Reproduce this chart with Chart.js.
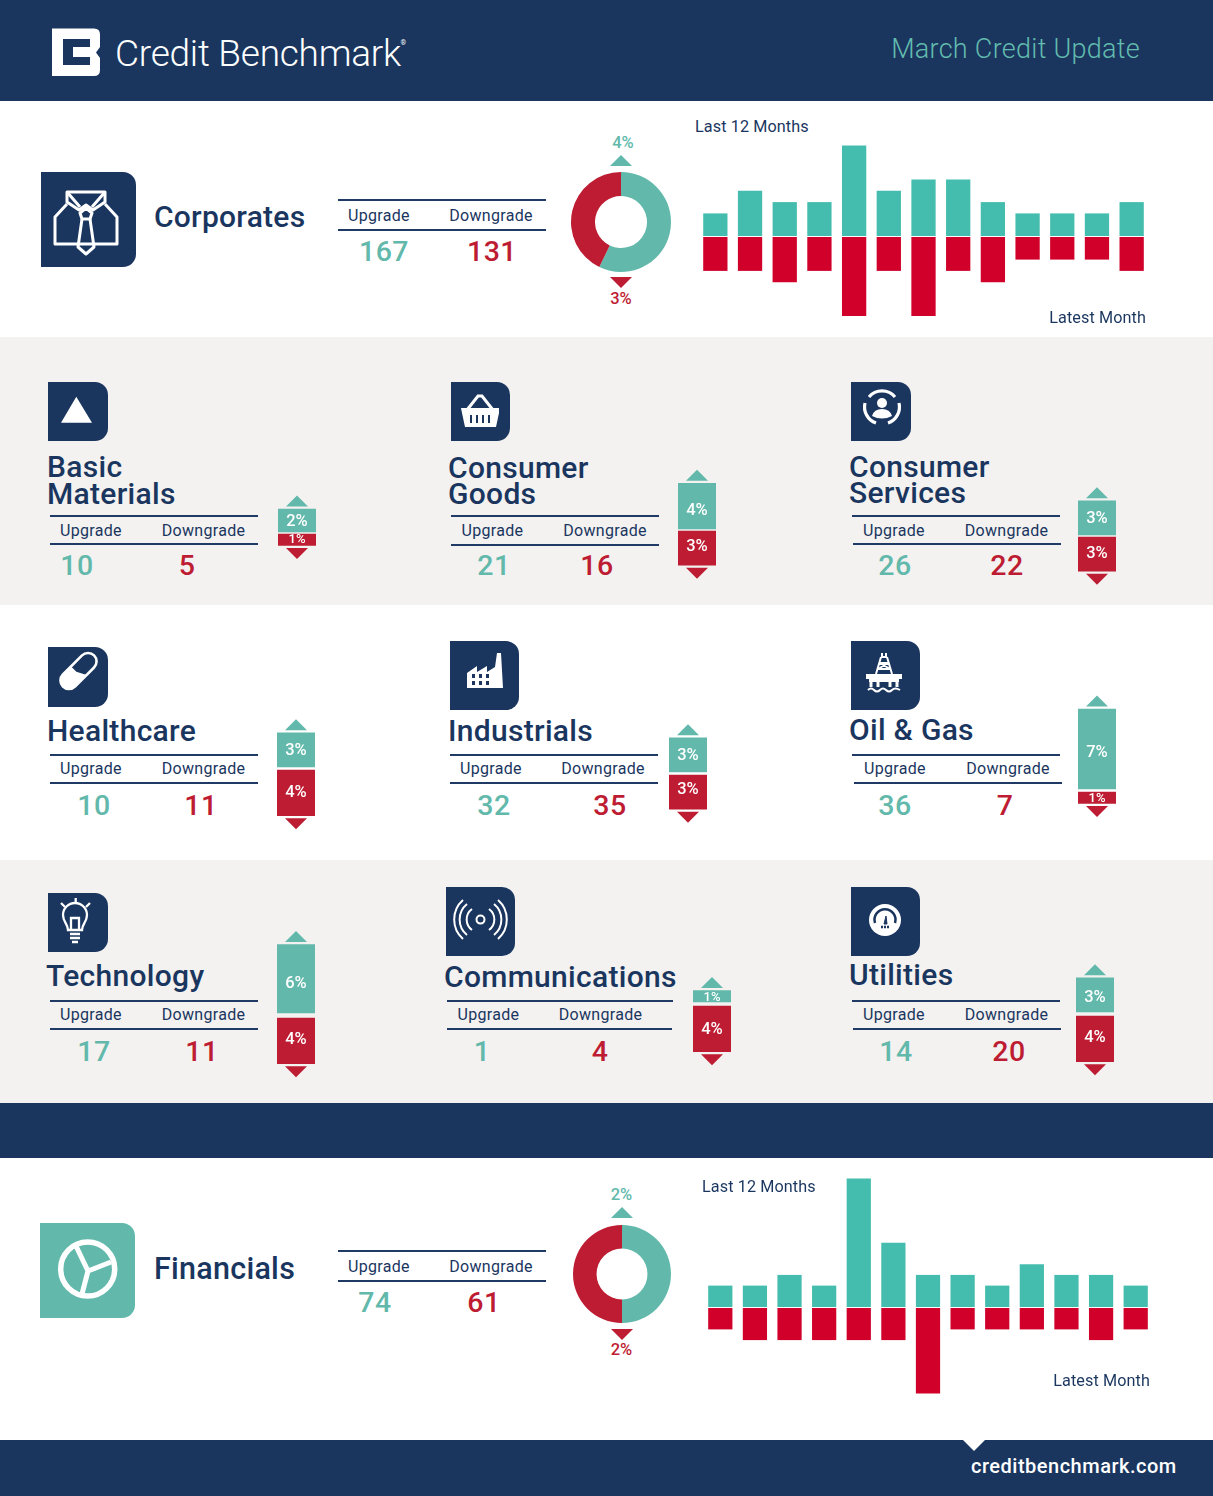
<!DOCTYPE html>
<html>
<head>
<meta charset="utf-8">
<title>Credit Benchmark – March Credit Update</title>
<script src="https://cdn.jsdelivr.net/npm/chart.js@4"></script>
<style>
html,body{margin:0;padding:0;background:#fff}
#page{position:relative;width:1213px;height:1496px;overflow:hidden;background:#fff;font-family:Roboto,sans-serif;color:#1a365f}
.band{position:absolute;left:0;width:1213px}
.t{position:absolute;white-space:nowrap;line-height:1}
.c{transform:translate(-50%,-50%)}
.l{transform:translateY(-50%)}
.r{transform:translate(-100%,-50%)}
.rule{position:absolute;height:2px;background:#1f3a64}
.box{position:absolute;border-radius:0 13px 13px 0;background:#1a365f;overflow:hidden}
.box svg{position:absolute;left:0;top:0;width:100%;height:100%}
canvas{position:absolute}
.tri{position:absolute;width:0;height:0;border-left:11px solid transparent;border-right:11px solid transparent}
</style>
</head>
<body>
<div id="page"></div>
<script>
// ---------- data ----------
const sectors = ['Basic|Materials','Consumer|Goods','Consumer|Services','Healthcare','Industrials','Oil & Gas','Technology','Communications','Utilities'];
const sectorUpgrades = [10,21,26,10,32,36,17,1,14];
const sectorDowngrades = [5,16,22,11,35,7,11,4,20];
const sectorUpPct = [2,4,3,3,3,7,6,1,3];
const sectorDownPct = [1,3,3,4,3,1,4,4,4];

const monthLabels = ['m1','m2','m3','m4','m5','m6','m7','m8','m9','m10','m11','m12','m13'];
const corporatesUp = [2,4,3,3,8,4,5,5,3,2,2,2,3];
const corporatesDown = [-3,-3,-4,-3,-7,-3,-7,-3,-4,-2,-2,-2,-3];
const financialsUp = [2,2,3,2,12,6,3,3,2,4,3,3,2];
const financialsDown = [-2,-3,-3,-3,-3,-3,-8,-2,-2,-2,-2,-3,-2];

const corporatesCounts = [167,131];
const corporatesPct = [4,3];
const financialsCounts = [74,61];
const financialsPct = [2,2];

const headings = {brand:'Credit Benchmark',update:'March Credit Update',up:'Upgrade',down:'Downgrade',last:'Last 12 Months',latest:'Latest Month',site:'creditbenchmark.com',corp:'Corporates',fin:'Financials'};

// ---------- styles ----------
const NAVY='#1a365f', TEAL='#62b9ab', RED='#bd1c32', BTEAL='#45bdae', BRED='#d0002a', GREY='#f3f2f0';
const page=document.getElementById('page');
function el(tag,cls,css,parent){const e=document.createElement(tag);if(cls)e.className=cls;Object.assign(e.style,css||{});(parent||page).appendChild(e);return e;}
function band(top,h,color){el('div','band',{top:top+'px',height:h+'px',background:color});}
function text(s,x,y,size,weight,color,align,spacing){const e=el('div','t '+(align||'c'),{left:x+'px',top:y+'px',fontSize:size+'px',fontWeight:weight,color:color,letterSpacing:(spacing||0)+'px'});e.textContent=s;return e;}
function rule(x1,x2,y){el('div','rule',{left:x1+'px',width:(x2-x1)+'px',top:(y-1)+'px'});}
function box(x,y,w,h,svg,color){const b=el('div','box',{left:x+'px',top:y+'px',width:w+'px',height:h+'px',background:color||NAVY});b.innerHTML='<svg viewBox="0 0 '+w+' '+h+'">'+svg+'</svg>';}
function tri(cx,top,dir,color){const e=el('div','tri',{left:(cx-11)+'px',top:top+'px'});if(dir>0){e.style.borderBottom='11px solid '+color;}else{e.style.borderTop='11px solid '+color;}}

// ---------- background bands ----------
band(0,101,NAVY);
band(337,268,GREY);
band(860,243,GREY);
band(1103,55,NAVY);
band(1440,56,NAVY);

// ---------- header ----------
const logo=el('div','',{position:'absolute',left:'0',top:'0',width:'200px',height:'101px'});
logo.innerHTML='<svg width="200" height="101"><path d="M52 28.5H94Q100 28.5 100 34.5V47L96 52.5L100 58V70Q100 76 94 76H52Z" fill="#fff"/><path d="M63 39H90V47H73V57H90V65H63Z" fill="'+NAVY+'"/></svg>';
text(headings.brand,115,53,37,300,'#fff','l',-0.25);
text('®',400.5,43,7,400,'#fff','l');
text(headings.update,1140,48.5,27,300,'#62bbae','r',0.28);

// ---------- footer ----------
el('div','',{position:'absolute',left:'963px',top:'1440px',width:'0',height:'0',borderLeft:'11px solid transparent',borderRight:'11px solid transparent',borderTop:'11px solid #fff'});
text(headings.site,971,1466,20,500,'#fff','l',0.5);

// ---------- icons ----------
const W='#fff';
const icons={
 shirt:`<g fill="none" stroke="${W}" stroke-width="3" stroke-linejoin="round"><path d="M26 32L14 45V72H76V45L64 32"/><path d="M26 20H64V30L52 38L45 33L38 38L26 30Z"/><path d="M26 20L39 35M64 20L51 35"/><path d="M39 41L45 36L51 41L49 47H41Z"/><path d="M41 47L37 75L45 82L53 75L49 47"/></g>`,
 tri:`<polygon points="13,40.7 44,40.7 28.3,14.7" fill="${W}"/>`,
 basket:`<path d="M16 28L27 14L31 14L42 28" fill="none" stroke="${W}" stroke-width="3"/><path d="M10 26H48V31L45 45H14L11 31Z" fill="${W}"/><path d="M20 33V41M26 33V41M32 33V41M38 33V41" stroke="${NAVY}" stroke-width="2"/>`,
 cycle:`<g fill="none" stroke="${W}" stroke-width="3.2"><path d="M18 15A17 17 0 0 1 44 15"/><path d="M48 21A17 17 0 0 1 37 41"/><path d="M25 41A17 17 0 0 1 14 21"/></g><circle cx="31" cy="21" r="5" fill="${W}"/><path d="M21 34Q23 27 31 27Q39 27 41 34Q31 39 21 34Z" fill="${W}"/>`,
 pill:`<g transform="translate(30.5 24) rotate(-45)"><rect x="-22" y="-8.5" width="44" height="17" rx="8.5" fill="none" stroke="${W}" stroke-width="2.6"/><path d="M-22 0A8.5 8.5 0 0 1 -13.5 -8.5H-2L-2 -1L3 8.5H-13.5A8.5 8.5 0 0 1 -22 0Z" fill="${W}"/></g>`,
 factory:`<path d="M17 32L27 25V31L37 25V31L45 26L47 12H51L53 47H17Z" fill="${W}"/><g fill="${NAVY}"><rect x="22" y="33" width="3" height="4"/><rect x="29" y="33" width="3" height="4"/><rect x="36" y="33" width="3" height="4"/><rect x="22" y="40" width="3" height="4"/><rect x="29" y="40" width="3" height="4"/><rect x="36" y="40" width="3" height="4"/></g>`,
 rig:`<g stroke="${W}" fill="none" stroke-width="2"><path d="M30 16L25 33M36 16L41 33M30 16H36M28 22H38M26 28H40M29 22L39 28M37 22L27 28M31 12V16M35 12V16"/><path d="M20 41V46M46 41V46M27 41V46M39 41V46" stroke-width="3"/><path d="M17 49Q20 46 23 49T29 49T35 49T41 49T49 49"/></g><rect x="15" y="33" width="36" height="5" fill="${W}"/><rect x="18" y="38" width="30" height="3" fill="${W}"/>`,
 bulb:`<g fill="none" stroke="${W}" stroke-width="2.3"><path d="M20 37C20 31 15 29 15 22A12 12 0 0 1 39 22C39 29 34 31 34 37Z"/><path d="M23 37V25H31V37"/><path d="M22 41H32M22 45H32M24 49H30"/><path d="M27.7 5V10M13 10L17 14M42 10L38 14"/></g>`,
 signal:`<circle cx="34.5" cy="32.6" r="4" fill="none" stroke="${W}" stroke-width="2"/><g fill="none" stroke="${W}" stroke-width="2"><path d="M26 22A13 13 0 0 0 26 43M43 22A13 13 0 0 1 43 43"/><path d="M21 17A20 20 0 0 0 21 48M48 17A20 20 0 0 1 48 48"/><path d="M17 13A26 26 0 0 0 17 52M52 13A26 26 0 0 1 52 52"/></g>`,
 gauge:`<circle cx="34" cy="33" r="16" fill="${W}"/><path d="M24 36A10.5 10.5 0 1 1 44 36" fill="none" stroke="${NAVY}" stroke-width="2.5"/><path d="M33 37L35 29L36 37Z" fill="${NAVY}" stroke="${NAVY}"/><path d="M30 40H38" stroke="${NAVY}" stroke-width="2.4" stroke-dasharray="2 1"/>`,
 wheel:`<g fill="none" stroke="${W}"><circle cx="47.7" cy="46" r="27" stroke-width="5.5"/><path d="M48 48L36 23M48 48L71 39M48 48L42 71" stroke-width="5"/></g>`
};

// ---------- chart plumbing ----------
function twoAxes(above,below,gap,unit){
 return {
  x:{type:'category',display:false,grid:{display:false}},
  y:{type:'linear',display:false,min:-(below+gap)/unit,max:above/unit,grid:{display:false}},
  y2:{type:'linear',display:false,min:-below/unit,max:(above+gap)/unit,grid:{display:false}}
 };
}
const baseOpts={responsive:false,animation:false,maintainAspectRatio:false,layout:{padding:0},events:[],plugins:{legend:{display:false},tooltip:{enabled:false},title:{display:false}}};
function makeCanvas(x,y,w,h){const c=el('canvas','',{left:x+'px',top:y+'px'});c.width=w;c.height=h;return c;}

const arrowsAndLabels={
 id:'arrowsAndLabels',
 afterDatasetsDraw(chart,args,o){
  const ctx=chart.ctx;
  [0,1].forEach(i=>{
   const bar=chart.getDatasetMeta(i).data[0];
   const v=chart.data.datasets[i].data[0];
   const cx=bar.x, color=chart.data.datasets[i].backgroundColor, dir=i===0?-1:1;
   ctx.save();
   ctx.fillStyle=color;
   ctx.beginPath();
   const base=bar.y+dir*2.6, tip=base+dir*11;
   ctx.moveTo(cx-11,base);ctx.lineTo(cx+11,base);ctx.lineTo(cx,tip);ctx.closePath();ctx.fill();
   ctx.fillStyle='#fff';
   const small=Math.abs(v)===1;
   ctx.font='500 '+(small?13:16.5)+'px Roboto';
   ctx.textAlign='center';ctx.textBaseline='middle';
   const mid=(bar.y+bar.base)/2+o.dy[i];
   ctx.fillText(Math.abs(v)+'%',cx,mid+1);
   ctx.restore();
  });
 }
};

function sectorBars(x,zUp,zDown,up,down,dy){
 const above=100, below=100, gap=zDown-zUp;
 const c=makeCanvas(x,zUp-above,38,above+below+gap);
 new Chart(c,{type:'bar',plugins:[arrowsAndLabels],data:{labels:['sector'],datasets:[
   {data:[up],backgroundColor:TEAL,yAxisID:'y',grouped:false,barPercentage:1,categoryPercentage:1,borderWidth:0},
   {data:[-down],backgroundColor:RED,yAxisID:'y2',grouped:false,barPercentage:1,categoryPercentage:1,borderWidth:0}
  ]},options:Object.assign({},baseOpts,{scales:twoAxes(above,below,gap,11.4),plugins:Object.assign({},baseOpts.plugins,{arrowsAndLabels:{dy:dy}})})});
}
function monthBars(x,w,zUp,up,down,unit,above,below){
 const c=makeCanvas(x,zUp-above,w,above+below+1);
 new Chart(c,{type:'bar',data:{labels:monthLabels,datasets:[
   {data:up,backgroundColor:BTEAL,yAxisID:'y',grouped:false,barPercentage:.7,categoryPercentage:1,borderWidth:0},
   {data:down,backgroundColor:BRED,yAxisID:'y2',grouped:false,barPercentage:.7,categoryPercentage:1,borderWidth:0}
  ]},options:Object.assign({},baseOpts,{scales:twoAxes(above,below,1,unit)})});
}
function ring(cx,cy,r,pct){
 const pad=2, size=2*(r+pad);
 const c=makeCanvas(cx-r-pad,cy-r-pad,size,size);
 new Chart(c,{type:'doughnut',data:{labels:['Upgrade','Downgrade'],datasets:[{data:pct,backgroundColor:[TEAL,RED],borderWidth:0}]},
  options:Object.assign({},baseOpts,{cutout:'52%',radius:r,rotation:0,circumference:360})});
}

// ---------- sector panels: layout only ----------
const panelLayout=[
 {box:[48,382,60,59],icon:'tri',tx:47,ty:480,r:[50,258,515.5,50,258,544],lab:[91,203.5,531],num:[77,187,566],bar:[277.5,532,534],dy:[0,-1]},
 {box:[451,382,59,59],icon:'basket',tx:448,ty:480.5,r:[451,659,516,451,659,544.5],lab:[492.5,605,531],num:[494,597,566],bar:[678,529,531],dy:[4,-2]},
 {box:[851,382,60,59],icon:'cycle',tx:849,ty:479.5,r:[852,1060,515.5,853,1061,544],lab:[894,1006.5,531],num:[895,1007,566],bar:[1078,535,537],dy:[0,-1]},
 {box:[48,647,60,60],icon:'pill',tx:47,ty:731,r:[50,258,755,50,258,783],lab:[91,203.5,769],num:[94,201,806],bar:[277,767,770],dy:[0,-1]},
 {box:[450,641,69,69],icon:'factory',tx:448,ty:731,r:[450,658,755,450,658,783],lab:[491,603,769],num:[494,610,806],bar:[669,772,775],dy:[0,-3]},
 {box:[851,641,69,69],icon:'rig',tx:849,ty:730,r:[852,1060,755,854,1062,783],lab:[895,1008,769],num:[895,1005,806],bar:[1078,789,792],dy:[3,0]},
 {box:[48,893,60,59],icon:'bulb',tx:46,ty:976,r:[50,258,1001,50,258,1029],lab:[91,203.5,1015],num:[94,202,1052],bar:[277,1013,1018],dy:[4,-2]},
 {box:[446,887,69,69],icon:'signal',tx:444,ty:977,r:[447,673,1001,447,672,1029],lab:[488.5,600.5,1015],num:[482,600,1052],bar:[693,1002,1006],dy:[0,0]},
 {box:[851,887,69,69],icon:'gauge',tx:849,ty:975,r:[852,1060,1001,853,1061,1029],lab:[894,1006.5,1015],num:[896,1009,1052],bar:[1076,1012,1016],dy:[2,-2]}
];
const TITLE=30, TSP=0.3, LAB=16, LSP=0.3, NUM=28.5, NSP=0.5;
sectors.forEach((name,i)=>{
 const p=panelLayout[i];
 box(p.box[0],p.box[1],p.box[2],p.box[3],icons[p.icon]);
 const title=text('',p.tx,p.ty,TITLE,500,NAVY,'l',TSP);
 title.style.lineHeight='26.5px';
 name.split('|').forEach((ln,k)=>{if(k)title.appendChild(document.createElement('br'));title.appendChild(document.createTextNode(ln));});
 rule(p.r[0],p.r[1],p.r[2]);rule(p.r[3],p.r[4],p.r[5]);
 text(headings.up,p.lab[0],p.lab[2],LAB,400,NAVY,'c',LSP);
 text(headings.down,p.lab[1],p.lab[2],LAB,400,NAVY,'c',LSP);
 text(String(sectorUpgrades[i]),p.num[0],p.num[2],NUM,500,TEAL,'c',NSP);
 text(String(sectorDowngrades[i]),p.num[1],p.num[2],NUM,500,RED,'c',NSP);
 sectorBars(p.bar[0],p.bar[1],p.bar[2],sectorUpPct[i],sectorDownPct[i],p.dy);
});

// ---------- corporates ----------
box(41,172,95,95,icons.shirt);
text(headings.corp,154,217,30,500,NAVY,'l',0.25);
rule(338,546,200);rule(338,546,230);
text(headings.up,379,216,LAB,400,NAVY,'c',LSP);
text(headings.down,491,216,LAB,400,NAVY,'c',LSP);
text(String(corporatesCounts[0]),384,252,NUM,500,TEAL,'c',NSP);
text(String(corporatesCounts[1]),492,252,NUM,500,RED,'c',NSP);
ring(621,222,50,corporatesPct);
text(corporatesPct[0]+'%',623,143,16.5,500,TEAL,'c');
tri(621,155,1,TEAL);
tri(621,277,-1,RED);
text(corporatesPct[1]+'%',621,298.5,16.5,500,RED,'c');
monthBars(698,451,236,corporatesUp,corporatesDown,11.3,100,95);
text(headings.last,695,127,16.2,400,NAVY,'l',0.1);
text(headings.latest,1146,318,16.2,400,NAVY,'r',0.1);

// ---------- financials ----------
box(40,1223,95,95,icons.wheel,TEAL);
text(headings.fin,154,1268.5,30.5,500,NAVY,'l',0.25);
rule(338,546,1251);rule(338,546,1281);
text(headings.up,379,1267,LAB,400,NAVY,'c',LSP);
text(headings.down,491,1267,LAB,400,NAVY,'c',LSP);
text(String(financialsCounts[0]),375,1303,NUM,500,TEAL,'c',NSP);
text(String(financialsCounts[1]),484,1303,NUM,500,RED,'c',NSP);
ring(621.5,1273.5,49,financialsPct);
text(financialsPct[0]+'%',621.5,1194.5,16.5,500,TEAL,'c');
tri(621.5,1207,1,TEAL);
tri(621.5,1329,-1,RED);
text(financialsPct[1]+'%',621.5,1349.5,16.5,500,RED,'c');
monthBars(703,450,1307,financialsUp,financialsDown,10.7,135,95);
text(headings.last,702,1187,16.2,400,NAVY,'l',0.1);
text(headings.latest,1150,1381,16.2,400,NAVY,'r',0.1);
</script>
</body>
</html>
